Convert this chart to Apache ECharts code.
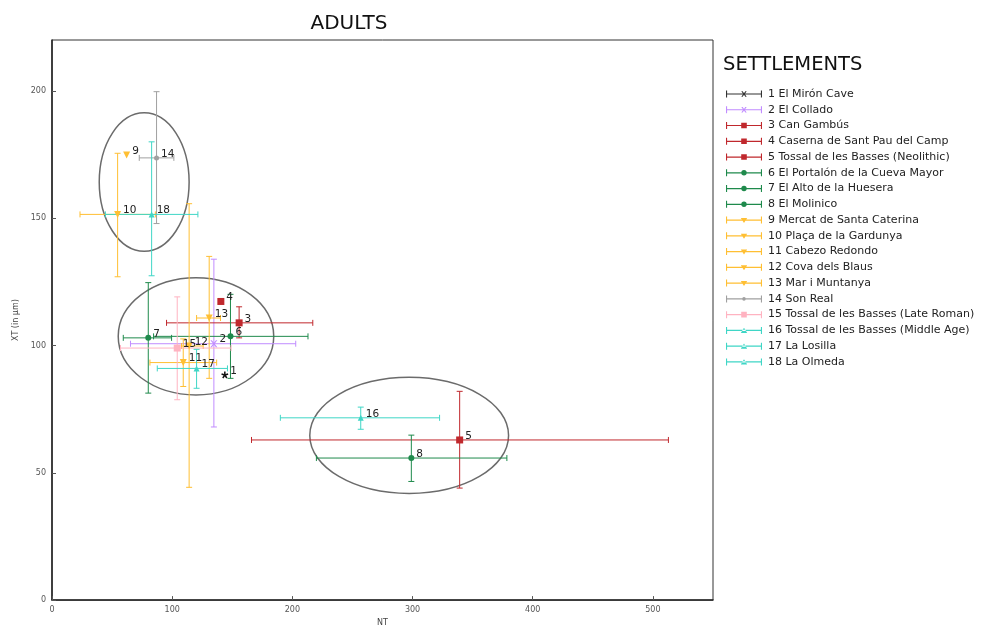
<!DOCTYPE html>
<html>
<head>
<meta charset="utf-8">
<script src="https://cdn.jsdelivr.net/npm/echarts@6/dist/echarts.min.js"></script>
<style>html,body{margin:0;padding:0;background:#fff;}#c{width:984px;height:632px;}</style>
</head>
<body>
<div id="c"></div>
<script>
// ---- data ----
const names = ['1 El Mirón Cave','2 El Collado','3 Can Gambús','4 Caserna de Sant Pau del Camp','5 Tossal de les Basses (Neolithic)','6 El Portalón de la Cueva Mayor','7 El Alto de la Huesera','8 El Molinico','9 Mercat de Santa Caterina','10 Plaça de la Gardunya','11 Cabezo Redondo','12 Cova dels Blaus','13 Mar i Muntanya','14 Son Real','15 Tossal de les Basses (Late Roman)','16 Tossal de les Basses (Middle Age)','17 La Losilla','18 La Olmeda'];
const ntMean = [143.8,134.7,155.7,140.5,339.2,148.5,80.1,299.0,62.1,54.6,109.2,114.1,130.8,87.0,104.2,256.9,120.3,82.9];
const xtMean = [88.4,100.7,108.9,117.3,62.9,103.6,103.0,55.8,174.8,151.5,93.3,99.8,110.8,173.7,99.0,71.6,91.0,151.5];
const ntLow  = [143.8,65.3,95.3,140.5,166.0,84.5,59.3,220.0,62.1,23.3,81.5,107.8,120.3,72.6,57.0,190.0,87.6,44.4];
const ntHigh = [143.8,202.8,217.0,140.5,512.9,213.0,99.5,378.5,62.1,86.0,137.0,125.8,140.2,101.4,149.0,322.5,146.0,121.4];
const xtLow  = [88.4,68.0,103.0,117.3,44.0,87.1,81.3,46.6,174.8,127.0,83.9,44.3,87.1,147.9,78.7,67.1,83.2,127.4];
const xtHigh = [88.4,133.9,115.2,117.3,82.0,120.1,124.7,64.8,174.8,175.5,102.6,155.7,135.0,199.7,119.1,75.8,98.5,180.0];
const groupOf = [0,1,2,2,2,3,3,3,4,4,4,4,4,5,6,7,7,7];
// ellipses (group outlines)
const ellCx = [76.7,119.8,297.2];
const ellCy = [164.2,103.6,64.7];
const ellRx = [37.4,64.7,82.7];
const ellRy = [27.2,23.0,22.8];
const xTicks = [0,100,200,300,400,500];
const yTicks = [0,50,100,150,200];

// ---- styles ----
const groupColor = ['#333333','#c18cff','#c0282d','#1f8a4c','#ffbf33','#a0a0a0','#ffb3c1','#3fd6c6'];
const crossPath = 'M0,0L2,0L5,3.6L8,0L10,0L6,5L10,10L8,10L5,6.4L2,10L0,10L4,5Z';
const starPath = 'M4,0L6,0L6,3.3L9,2.2L9.6,4.1L6.6,5L8.5,7.8L6.9,9L5,6.3L3.1,9L1.5,7.8L3.4,5L0.4,4.1L1,2.2L4,3.3Z';
const groupSymbol = ['path://'+starPath,'path://'+crossPath,'rect','rect','rect','circle','circle','circle','triangle','triangle','triangle','triangle','triangle','circle','rect','triangle','triangle','triangle'];
const symSize = [7,7,7,7,7,6,6,6,7,7,7,7,7,5,7,6,6,6];
const symRotate = [0,0,0,0,0,0,0,0,180,180,180,180,180,0,0,0,0,0];

const lineBase = 'M0,3.4L36,3.4L36,4.6L0,4.6Z M0,0.5L1.1,0.5L1.1,7.5L0,7.5Z M34.9,0.5L36,0.5L36,7.5L34.9,7.5Z M0,0L0.01,0L0.01,8L0,8Z';
const mk = {
  cross: 'M15.3,1.3L16.7,1.3L18,3.2L19.3,1.3L20.7,1.3L18.7,4L20.7,6.7L19.3,6.7L18,4.8L16.7,6.7L15.3,6.7L17.3,4Z',
  rect: 'M15.2,1.2L20.8,1.2L20.8,6.8L15.2,6.8Z',
  circle: 'M18,1.3A2.7,2.7,0,1,1,17.99,1.3Z',
  small: 'M18,2.2A1.8,1.8,0,1,1,17.99,2.2Z',
  down: 'M14.8,1.8L21.2,1.8L18,6.8Z',
  up: 'M14.8,6.6L21.2,6.6L18,1.4Z'
};
const iconMk = ['cross','cross','rect','rect','rect','circle','circle','circle','down','down','down','down','down','small','rect','up','up','up'];

const series = [];
// ellipses
series.push({
  type:'custom', name:'__ellipses', silent:true, z:1,
  data: ellCx.map((c,i)=>[c, ellCy[i], ellRx[i], ellRy[i]]),
  renderItem: function(params, api){
    const c = api.coord([api.value(0), api.value(1)]);
    const e = api.coord([api.value(0)+api.value(2), api.value(1)+api.value(3)]);
    const rx = Math.abs(e[0]-c[0]), ry = Math.abs(e[1]-c[1]);
    return {type:'ellipse', shape:{cx:c[0], cy:c[1], rx:rx, ry:ry}, style:{fill:null, stroke:'#6b6b6b', lineWidth:1.5}};
  },
  encode:{x:0,y:1}
});
names.forEach((n,i)=>{
  const col = groupColor[groupOf[i]];
  series.push({
    type:'custom', name:n, z:2,
    itemStyle:{color:col},
    data:[[ntMean[i], xtMean[i], ntLow[i], ntHigh[i], xtLow[i], xtHigh[i]]],
    encode:{x:[0,2,3], y:[1,4,5]},
    renderItem: function(params, api){
      const x=api.value(0), y=api.value(1);
      const l=api.coord([api.value(2),y]), r=api.coord([api.value(3),y]);
      const lo=api.coord([x,api.value(4)]), hi=api.coord([x,api.value(5)]);
      const cap=3, st={stroke:col, lineWidth:1};
      const ch=[];
      if (Math.abs(r[0]-l[0])>1){
        ch.push({type:'line', shape:{x1:l[0],y1:l[1],x2:r[0],y2:r[1]}, style:st});
        ch.push({type:'line', shape:{x1:l[0],y1:l[1]-cap,x2:l[0],y2:l[1]+cap}, style:st});
        ch.push({type:'line', shape:{x1:r[0],y1:r[1]-cap,x2:r[0],y2:r[1]+cap}, style:st});
      }
      if (Math.abs(hi[1]-lo[1])>1){
        ch.push({type:'line', shape:{x1:lo[0],y1:lo[1],x2:hi[0],y2:hi[1]}, style:st});
        ch.push({type:'line', shape:{x1:lo[0]-cap,y1:lo[1],x2:lo[0]+cap,y2:lo[1]}, style:st});
        ch.push({type:'line', shape:{x1:hi[0]-cap,y1:hi[1],x2:hi[0]+cap,y2:hi[1]}, style:st});
      }
      return {type:'group', children:ch};
    }
  });
  series.push({
    type:'scatter', name:n, z:3,
    symbol: groupSymbol[i], symbolSize: symSize[i], symbolRotate: symRotate[i],
    itemStyle:{color: i===0 ? '#111' : col, opacity:1},
    data:[[ntMean[i], xtMean[i]]],
    label:{show:true, position:'right', distance:2, offset:[0,-4], formatter:String(i+1), fontSize:10.5, color:'#222', fontFamily:'DejaVu Sans'}
  });
});

const legendData = names.map((n,i)=>({name:n, icon:'path://'+lineBase+' '+mk[iconMk[i]]}));

const chart = echarts.init(document.getElementById('c'), null, {renderer:'canvas'});
chart.setOption({
  animation:false,
  backgroundColor:'#fff',
  title:[
    {text:'ADULTS', left:344, top:9, textAlign:'center', textStyle:{fontSize:20, fontWeight:'normal', color:'#111', fontFamily:'DejaVu Sans'}},
    {text:'SETTLEMENTS', left:718, top:50, textStyle:{fontSize:19.5, fontWeight:'normal', color:'#111', fontFamily:'DejaVu Sans'}}
  ],
  legend:{
    orient:'vertical', left:721, top:83.5, itemWidth:36, itemHeight:8, itemGap:4.76,
    data:legendData, selectedMode:false,
    textStyle:{fontSize:11, color:'#222', fontFamily:'DejaVu Sans', padding:[0,0,0,1]}
  },
  grid:{left:52, right:271, top:40, bottom:26, show:true, borderColor:'#333', borderWidth:1, backgroundColor:'transparent'},
  xAxis:{
    type:'value', min:0, max:550, interval:100,
    name:'NT', nameLocation:'middle', nameGap:18, nameTextStyle:{fontSize:8, color:'#444', fontFamily:'DejaVu Sans'},
    axisLine:{show:true, lineStyle:{color:'#222', width:1.5}},
    axisTick:{show:true, inside:true, length:4, lineStyle:{color:'#555'}},
    axisLabel:{fontSize:8, color:'#555', margin:6, showMaxLabel:false, fontFamily:'DejaVu Sans', formatter:v=>xTicks.includes(v)?String(v):''},
    splitLine:{show:false}
  },
  yAxis:{
    type:'value', min:0, max:220, interval:50,
    name:'XT (in µm)', nameLocation:'middle', nameGap:22, nameRotate:90, nameTextStyle:{fontSize:8, color:'#444', fontFamily:'DejaVu Sans'},
    axisLine:{show:true, lineStyle:{color:'#222', width:1.5}},
    axisTick:{show:true, inside:true, length:4, lineStyle:{color:'#555'}},
    axisLabel:{fontSize:8, color:'#555', margin:6, showMaxLabel:false, fontFamily:'DejaVu Sans', formatter:v=>yTicks.includes(v)?String(v):''},
    splitLine:{show:false}
  },
  series:series
});
</script>
</body>
</html>
